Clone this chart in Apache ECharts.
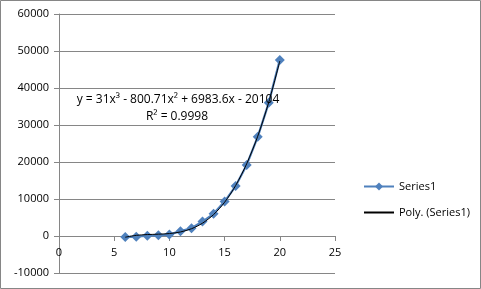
<!DOCTYPE html>
<html>
<head>
<meta charset="utf-8">
<script src="https://cdn.jsdelivr.net/npm/echarts@6/dist/echarts.min.js"></script>
<style>
  html, body { margin: 0; padding: 0; background: #fff; }
  #chart { width: 481px; height: 289px; }
</style>
</head>
<body>
<div id="chart"></div>
<script>
// valores
var xValues = [6, 7, 8, 9, 10, 11, 12, 13, 14, 15, 16, 17, 18, 19, 20];
var series1 = [-300, -200, 100, 200, 400, 1300, 2100, 3900, 6000, 9300, 13500, 19200, 26800, 36000, 47600];
var trendValues = [-330, 180, 390, 490, 660, 1090, 1960, 3470, 5790, 9120, 13630, 19520, 26960, 36160, 47280];
var equationText = 'y = 31x³ - 800.71x² + 6983.6x - 20104';
var r2Text = 'R² = 0.9998';

var chartDom = document.getElementById('chart');
var myChart = echarts.init(chartDom);
var fonte = 'Open Sans';
var cinza = '#868686';

function pares(xs, ys) {
    return xs.map(function(x, i) { return [x, ys[i]]; });
}

var option = {
    animation: false,
    textStyle: { fontFamily: fonte },
    grid: { left: 59, right: 146, top: 14, bottom: 16, outerBoundsMode: 'none' },
    xAxis: {
        type: 'value',
        min: 0,
        max: 25,
        interval: 5,
        position: 'bottom',
        offset: -37, // eixo x cruza o y em 0
        axisLine: { onZero: false, lineStyle: { color: cinza } },
        axisTick: { length: 5, lineStyle: { color: cinza } },
        axisLabel: { color: '#000', fontSize: 11, margin: 11, fontFamily: fonte },
        splitLine: { show: false }
    },
    yAxis: {
        type: 'value',
        min: -10000,
        max: 60000,
        interval: 10000,
        axisLine: { show: true, lineStyle: { color: cinza } },
        axisTick: { show: true, length: 5, lineStyle: { color: cinza } },
        axisLabel: {
            color: '#000', fontSize: 11, margin: 10, fontFamily: fonte,
            formatter: function(v) { return String(v); }
        },
        splitLine: { lineStyle: { color: cinza, width: 1 } }
    },
    legend: {
        orient: 'vertical',
        left: 358,
        top: 176,
        itemGap: 15,
        itemWidth: 30,
        itemHeight: 10,
        textStyle: { color: '#000', fontSize: 11, fontFamily: fonte },
        data: ['Series1', 'Poly. (Series1)']
    },
    graphic: [
        {
            type: 'rect',
            shape: { x: 0.5, y: 0.5, width: 480, height: 288 },
            style: { fill: 'none', stroke: cinza, lineWidth: 1 },
            silent: true
        },
        {
            type: 'text',
            x: 178,
            y: 100,
            style: {
                text: equationText, fill: '#000', font: '12px "Open Sans"',
                textAlign: 'center', textVerticalAlign: 'middle'
            },
            z: 10
        },
        {
            type: 'text',
            x: 177,
            y: 117,
            style: {
                text: r2Text, fill: '#000', font: '12px "Open Sans"',
                textAlign: 'center', textVerticalAlign: 'middle'
            },
            z: 10
        }
    ],
    series: [
        {
            name: 'Series1',
            type: 'line',
            data: pares(xValues, series1),
            symbol: 'diamond',
            symbolSize: 10,
            lineStyle: { color: '#4F81BD', width: 2.25 },
            itemStyle: { color: '#4F81BD' },
            z: 2
        },
        {
            name: 'Poly. (Series1)',
            type: 'line',
            data: pares(xValues, trendValues),
            symbol: 'circle',
            showSymbol: false,
            smooth: 0.3,
            lineStyle: { color: '#000', width: 1 },
            itemStyle: { color: '#000', opacity: 0 },
            z: 3
        }
    ]
};

option && myChart.setOption(option);
</script>
</body>
</html>
